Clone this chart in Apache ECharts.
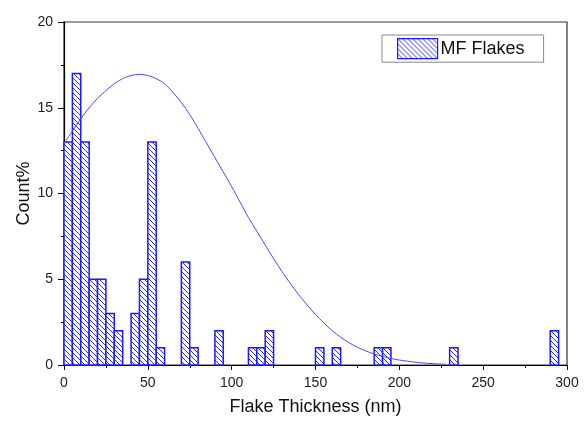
<!DOCTYPE html>
<html>
<head>
<meta charset="utf-8">
<script src="https://cdn.jsdelivr.net/npm/echarts@6/dist/echarts.min.js"></script>
<style>
  html, body { margin: 0; padding: 0; background: #fff; }
  #chart { width: 584px; height: 421px; }
</style>
</head>
<body>
<div id="chart"></div>
<script>
// histogram bins (left edge, nm) that have counts, 5 nm wide
var binWidth = 5;
var binLeft = [0, 5, 10, 15, 20, 25, 30, 40, 45, 50, 55, 70, 75, 90, 110, 115, 120, 150, 160, 185, 190, 230, 290];
var binCount = [13, 17, 13, 5, 5, 3, 2, 3, 5, 13, 1, 6, 1, 2, 1, 1, 2, 1, 1, 1, 1, 1, 2];

// fitted curve (every 5 nm)
var fitX = [0, 5, 10, 15, 20, 25, 30, 35, 40, 45, 50, 55, 60, 65, 70, 75, 80, 85, 90, 95,
    100, 105, 110, 115, 120, 125, 130, 135, 140, 145, 150, 155, 160, 165, 170, 175,
    180, 185, 190, 195, 200, 205, 210, 215, 220, 225, 228];
var fitY = [12.9, 13.65, 14.35, 15.0, 15.55, 16.0, 16.4, 16.7, 16.88, 16.95, 16.88, 16.7, 16.4, 15.9, 15.3, 14.6, 13.8, 12.95, 12.1, 11.25,
    10.4, 9.5, 8.6, 7.8, 7.0, 6.2, 5.45, 4.75, 4.1, 3.5, 2.95, 2.45, 2.0, 1.62, 1.3, 1.03,
    0.82, 0.64, 0.5, 0.38, 0.29, 0.22, 0.16, 0.11, 0.08, 0.05, 0.04];

var xTicks = [0, 50, 100, 150, 200, 250, 300];
var yTicks = [0, 5, 10, 15, 20];

var blue = '#1a1aff';

function makeHatch() {
    var s = 5;
    var c = document.createElement('canvas');
    c.width = s;
    c.height = s;
    var ctx = c.getContext('2d');
    ctx.fillStyle = '#fff';
    ctx.fillRect(0, 0, s, s);
    ctx.strokeStyle = '#3030ee';
    ctx.lineWidth = 1;
    ctx.beginPath();
    ctx.moveTo(0, 0); ctx.lineTo(s, s);
    ctx.moveTo(-1, s - 1); ctx.lineTo(1, s + 1);
    ctx.moveTo(s - 1, -1); ctx.lineTo(s + 1, 1);
    ctx.stroke();
    return { image: c, repeat: 'repeat' };
}
var hatch = makeHatch();

var barData = binLeft.map(function (b, i) {
    return [b, b + binWidth, binCount[i]];
});
var fitData = fitX.map(function (x, i) {
    return [x, fitY[i]];
});

function renderBar(params, api) {
    var p0 = api.coord([api.value(0), api.value(2)]);
    var p1 = api.coord([api.value(1), 0]);
    return {
        type: 'rect',
        shape: { x: p0[0], y: p0[1], width: p1[0] - p0[0], height: p1[1] - p0[1] },
        style: { fill: hatch, stroke: blue, lineWidth: 1.5 }
    };
}

// minor tick axes (outward, shorter)
function minorAxis(pos, max, step) {
    return {
        type: 'value', position: pos, min: 0, max: max, interval: step,
        axisLine: { show: false },
        axisTick: { show: true, length: 3, lineStyle: { color: '#000' } },
        axisLabel: { show: false },
        splitLine: { show: false }
    };
}

var myChart = echarts.init(document.getElementById('chart'));
myChart.setOption({
    animation: false,
    backgroundColor: '#fff',
    textStyle: { fontFamily: 'Liberation Sans, Arial, sans-serif' },
    grid: {
        left: 64, right: 17, top: 22, bottom: 56,
        outerBoundsMode: 'none',
        containLabel: false,
        show: true, borderColor: '#333', borderWidth: 1.2
    },
    legend: {
        left: 382, top: 35,
        padding: [3, 19, 3, 15],
        borderColor: '#888', borderWidth: 1,
        itemWidth: 40, itemHeight: 20, itemGap: 0,
        textStyle: { fontSize: 18, color: '#111', padding: [0, 0, 0, -2] },
        data: [{
            name: 'MF Flakes', icon: 'rect',
            itemStyle: { color: hatch, borderColor: blue, borderWidth: 1.2 }
        }]
    },
    xAxis: [{
        type: 'value', position: 'bottom', min: 0, max: 300, interval: 50,
        name: 'Flake Thickness (nm)', nameLocation: 'middle', nameGap: 33,
        nameTextStyle: { fontSize: 18, color: '#111' },
        axisLine: { show: true, lineStyle: { color: '#000', width: 1.2 } },
        axisTick: { show: true, length: 5, lineStyle: { color: '#000' } },
        axisLabel: { fontSize: 14, color: '#222', margin: 11,
            formatter: function (v) { return xTicks.indexOf(v) >= 0 ? String(v) : ''; } },
        splitLine: { show: false }
    }, minorAxis('bottom', 300, 25)],
    yAxis: [{
        type: 'value', position: 'left', min: 0, max: 20, interval: 5,
        name: 'Count%', nameLocation: 'middle', nameGap: 31,
        nameMoveOverlap: false,
        nameTextStyle: { fontSize: 18, color: '#111' },
        axisLine: { show: true, lineStyle: { color: '#000', width: 1.2 } },
        axisTick: { show: true, length: 6, lineStyle: { color: '#000' } },
        axisLabel: { fontSize: 14, color: '#222', margin: 11,
            formatter: function (v) { return yTicks.indexOf(v) >= 0 ? String(v) : ''; } },
        splitLine: { show: false }
    }, minorAxis('left', 20, 2.5)],
    series: [
        {
            name: 'MF Flakes',
            type: 'custom',
            renderItem: renderBar,
            itemStyle: { color: hatch, borderColor: blue },
            encode: { x: [0, 1], y: 2 },
            data: barData,
            z: 2
        },
        {
            name: 'fit',
            type: 'line',
            smooth: 0.3,
            showSymbol: false,
            lineStyle: { color: '#4a4af5', width: 1 },
            data: fitData,
            z: 3
        }
    ]
});
</script>
</body>
</html>
